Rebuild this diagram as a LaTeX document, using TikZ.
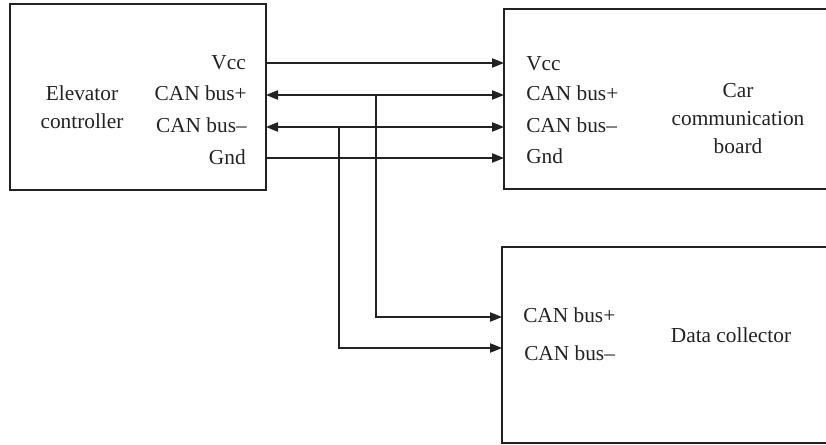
\documentclass[tikz,border=0pt]{standalone}
\usepackage{fontspec}
\setmainfont{Liberation Serif}
\usetikzlibrary{arrows.meta}
\definecolor{ink}{HTML}{222222}
\begin{document}
\begin{tikzpicture}[x=0.75pt,y=-0.75pt,
  box/.style={draw=ink,line width=0.9pt,inner sep=0pt,outer sep=0pt},
  lbl/.style={font=\fontsize{16}{19}\selectfont,text=ink,inner sep=0pt},
  wire/.style={draw=ink,line width=0.9pt},
  tip/.style={-{Triangle[length=9pt,width=7pt]}},
  both/.style={{Triangle[length=9pt,width=7pt]}-{Triangle[length=9pt,width=7pt]}}]
\useasboundingbox (0,0) rectangle (826,445);
\node[box,minimum width=192pt,minimum height=139.5pt] (ctrl) at (138,97) {};
\node[box,minimum width=246pt,minimum height=135pt] (car) at (668,99) {};
\node[box,minimum width=247.5pt,minimum height=147pt] (dc) at (667,345) {};
% labels
\node[lbl,align=center] (ctrlname) at (82,107) {Elevator\\[2pt]controller};
\node[lbl,anchor=mid east] (cV) at (246,66) {Vcc};
\node[lbl,anchor=mid east] (cP) at (247,97) {CAN bus+};
\node[lbl,anchor=mid east] (cM) at (247,129) {CAN bus–};
\node[lbl,anchor=mid east] (cG) at (246,161) {Gnd};
\node[lbl,anchor=mid west] (bV) at (526,67) {Vcc};
\node[lbl,anchor=mid west] (bP) at (526,97) {CAN bus+};
\node[lbl,anchor=mid west] (bM) at (526,129) {CAN bus–};
\node[lbl,anchor=mid west] (bG) at (526,160) {Gnd};
\node[lbl,align=center] (carname) at (738,119) {Car\\[2pt]communication\\[2pt]board};
\node[lbl,anchor=mid west] (dP) at (523,319) {CAN bus+};
\node[lbl,anchor=mid west] (dM) at (524,357) {CAN bus–};
\node[lbl] (dcname) at (731,335) {Data collector};
% ports
\coordinate (cVo) at (ctrl.east |- 0,63);
\coordinate (cPo) at (ctrl.east |- 0,95);
\coordinate (cMo) at (ctrl.east |- 0,127);
\coordinate (cGo) at (ctrl.east |- 0,158);
\coordinate (bVi) at (car.west |- 0,63);
\coordinate (bPi) at (car.west |- 0,95);
\coordinate (bMi) at (car.west |- 0,127);
\coordinate (bGi) at (car.west |- 0,158);
\coordinate (dPi) at (dc.west |- 0,317);
\coordinate (dMi) at (dc.west |- 0,348);
\coordinate (jP) at (376,95);
\coordinate (jM) at (339,127);
% wires
\draw[wire,tip] (cVo) -- (bVi);
\draw[wire,both] (cPo) -- (bPi);
\draw[wire,both] (cMo) -- (bMi);
\draw[wire,tip] (cGo) -- (bGi);
\draw[wire,tip] (jP) -- (jP |- dPi) -- (dPi);
\draw[wire,tip] (jM) -- (jM |- dMi) -- (dMi);
\end{tikzpicture}
\end{document}
